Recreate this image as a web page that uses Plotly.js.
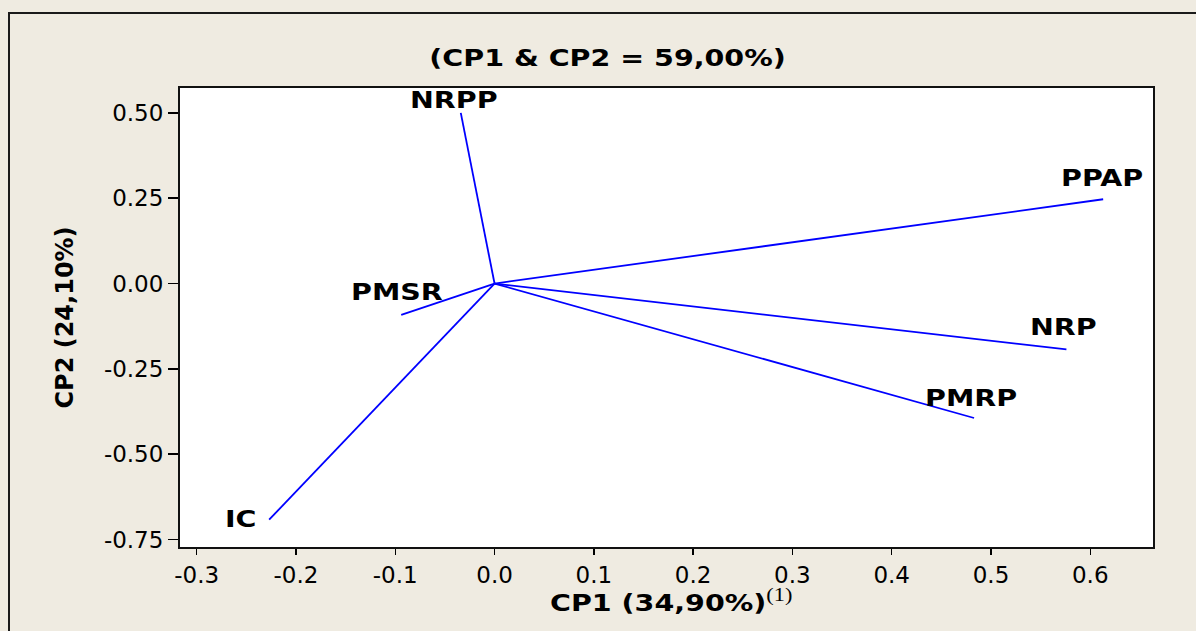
<!DOCTYPE html>
<html>
<head>
<meta charset="utf-8">
<script src="https://cdn.plot.ly/plotly-3.0.1.min.js"></script>
<style>
  html, body { margin: 0; padding: 0; background: #EFEBE1; }
  #chart { width: 1196px; height: 631px; }
  /* wide bold lettering for the titles and vector labels */
  .gtitle, .annotation-text {
    transform-box: fill-box;
    transform-origin: center;
    transform: scaleX(1.24);
  }
</style>
</head>
<body>
<div id="chart"></div>
<script>
// Loadings of each variable on the first two principal components
const variables = ['NRPP', 'PPAP', 'NRP', 'PMRP', 'PMSR', 'IC'];
const cp1 = [-0.034, 0.613, 0.576, 0.483, -0.094, -0.227];
const cp2 = [0.500, 0.247, -0.193, -0.394, -0.092, -0.692];

// Axis ticks
const xTickVals = [-0.3, -0.2, -0.1, 0.0, 0.1, 0.2, 0.3, 0.4, 0.5, 0.6];
const xTickText = ['-0.3', '-0.2', '-0.1', '0.0', '0.1', '0.2', '0.3', '0.4', '0.5', '0.6'];
const yTickVals = [0.50, 0.25, 0.00, -0.25, -0.50, -0.75];
const yTickText = ['0.50', '0.25', '0.00', '-0.25', '-0.50', '-0.75'];

// Label placement relative to each vector tip, in pixels
const labelShift = {
  NRPP: [-7, 12],
  PPAP: [-1, 21],
  NRP:  [-3, 22],
  PMRP: [-3, 20],
  PMSR: [-4, 22],
  IC:   [-28, 0]
};

const BOLD = 'DejaVu Sans, Verdana, sans-serif';
const TICKFONT = { family: 'DejaVu Sans, Verdana, sans-serif', size: 23, color: '#000' };

// One segment from the origin to each loading
const traces = variables.map((name, i) => ({
  type: 'scatter',
  mode: 'lines',
  x: [0, cp1[i]],
  y: [0, cp2[i]],
  line: { color: '#0000FF', width: 1.8 },
  hoverinfo: 'skip',
  showlegend: false
}));

const annotations = variables.map((name, i) => ({
  x: cp1[i],
  y: cp2[i],
  xref: 'x',
  yref: 'y',
  text: '<b>' + name + '</b>',
  showarrow: false,
  xanchor: 'center',
  yanchor: 'middle',
  xshift: labelShift[name][0],
  yshift: labelShift[name][1],
  font: { family: BOLD, size: 23, color: '#000' }
}));

// Horizontal axis title, with its footnote marker
annotations.push({
  xref: 'paper',
  yref: 'paper',
  x: (671 - 180) / 973,
  y: (547 - 600) / 459,
  xanchor: 'center',
  yanchor: 'middle',
  showarrow: false,
  text: '<b>CP1 (34,90%)</b><sup><span style="font-family:\'Liberation Serif\',serif;font-size:18px">(1)</span></sup>',
  font: { family: BOLD, size: 23, color: '#000' }
});

const layout = {
  width: 1196,
  height: 631,
  paper_bgcolor: '#EFEBE1',
  plot_bgcolor: '#FFFFFF',
  margin: { l: 180, r: 43, t: 88, b: 84, pad: 0 },
  title: {
    text: '<b>(CP1 & CP2 = 59,00%)</b>',
    font: { family: BOLD, size: 23, color: '#000' },
    x: 0.508,
    xanchor: 'center',
    y: 1 - 58 / 631,
    yanchor: 'middle'
  },
  xaxis: {
    range: [-0.3168, 0.6632],
    tickmode: 'array',
    tickvals: xTickVals,
    ticktext: xTickText,
    ticks: 'outside',
    ticklen: 6,
    tickwidth: 1.5,
    tickcolor: '#000',
    tickfont: TICKFONT,
    showline: true,
    mirror: true,
    linecolor: '#111',
    linewidth: 2,
    showgrid: false,
    zeroline: false
  },
  yaxis: {
    range: [-0.772, 0.573],
    tickmode: 'array',
    tickvals: yTickVals,
    ticktext: yTickText,
    ticks: 'outside',
    ticklen: 10,
    tickwidth: 1.5,
    tickcolor: '#000',
    tickfont: TICKFONT,
    showline: true,
    mirror: true,
    linecolor: '#111',
    linewidth: 2,
    showgrid: false,
    zeroline: false,
    title: {
      text: '<b>CP2 (24,10%)</b>',
      font: { family: BOLD, size: 24, color: '#000' },
      standoff: 23
    }
  },
  shapes: [{
    type: 'rect',
    xref: 'paper',
    yref: 'paper',
    x0: (9 - 180) / 973,
    x1: 1.2,
    y0: -0.3,
    y1: (547 - 13) / 459,
    line: { color: '#1a1a1a', width: 2 },
    fillcolor: 'rgba(0,0,0,0)',
    layer: 'below'
  }],
  annotations: annotations
};

Plotly.newPlot('chart', traces, layout, { displayModeBar: false, staticPlot: true });
</script>
</body>
</html>
